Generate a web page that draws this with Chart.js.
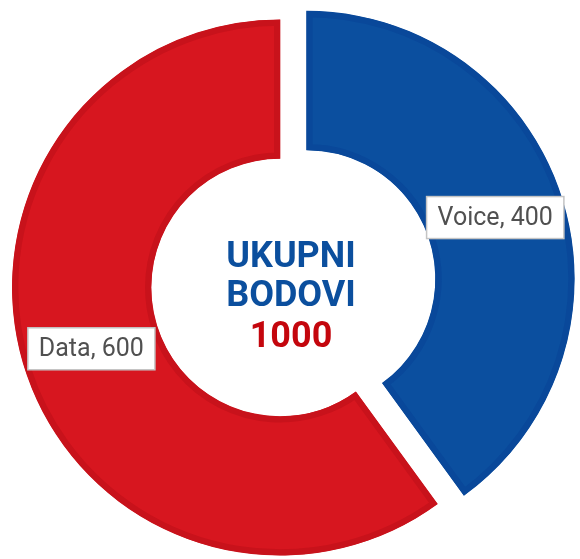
<!DOCTYPE html>
<html>
<head>
<meta charset="utf-8">
<style>
  html, body { margin: 0; padding: 0; background: #fff; }
  #wrap { width: 580px; height: 559px; position: relative; }
</style>
</head>
<body>
<div id="wrap"><canvas id="myChart"></canvas></div>
<script src="https://cdn.jsdelivr.net/npm/chart.js@4.4.0/dist/chart.umd.min.js"></script>
<script>
// podaci
const categories = ['Voice', 'Data'];
const points = [400, 600];
const centerTitle = ['UKUPNI', 'BODOVI'];

let myChart = document.getElementById('myChart').getContext('2d');

// pomak izdvojenog isjecka i natpisi na isjeccima
const explodePlugin = {
    id: 'explode',
    beforeDatasetsDraw(chart) {
        const ds = chart.data.datasets[0];
        chart.getDatasetMeta(0).data.forEach((arc, i) => {
            const d = ds.explode[i] || 0;
            const mid = (arc.startAngle + arc.endAngle) / 2;
            arc._dx = Math.cos(mid) * d;
            arc._dy = Math.sin(mid) * d;
            arc.x += arc._dx;
            arc.y += arc._dy;
        });
    },
    afterDatasetsDraw(chart) {
        const ctx = chart.ctx;
        const arcs = chart.getDatasetMeta(0).data;
        ctx.save();
        ctx.font = '25px Roboto';
        ctx.textAlign = 'center';
        ctx.textBaseline = 'middle';
        arcs.forEach((arc, i) => {
            const p = arc.getCenterPoint();
            const text = chart.data.labels[i] + ', ' + chart.data.datasets[0].data[i];
            const w = ctx.measureText(text).width + 22;
            const h = 42;
            ctx.fillStyle = '#fff';
            ctx.fillRect(p.x - w / 2, p.y - h / 2, w, h);
            ctx.strokeStyle = '#c4c4c4';
            ctx.lineWidth = 1.5;
            ctx.strokeRect(p.x - w / 2, p.y - h / 2, w, h);
            ctx.fillStyle = '#505050';
            ctx.fillText(text, p.x, p.y + 1);
        });
        ctx.restore();
        // vracam centre natrag
        arcs.forEach(arc => {
            arc.x -= arc._dx;
            arc.y -= arc._dy;
        });
    }
};

// tekst u sredini
const centerTextPlugin = {
    id: 'centerText',
    afterDraw(chart) {
        const ctx = chart.ctx;
        const area = chart.chartArea;
        const cx = (area.left + area.right) / 2 + 11;
        const cy = (area.top + area.bottom) / 2;
        const total = points.reduce((a, b) => a + b, 0);
        ctx.save();
        ctx.textAlign = 'center';
        ctx.textBaseline = 'alphabetic';
        ctx.font = 'bold 36px Roboto';
        ctx.fillStyle = '#0b4f9e';
        ctx.fillText(centerTitle[0], cx, cy - 21);
        ctx.fillText(centerTitle[1], cx, cy + 18.5);
        ctx.fillStyle = '#c4060d';
        ctx.fillText(String(total), cx, cy + 59);
        ctx.restore();
    }
};

const chart = new Chart(myChart, {
    type: 'doughnut',
    data: {
        labels: categories,
        datasets: [{
            data: points,
            backgroundColor: ['#0b4f9f', '#d7161f'],
            borderColor: ['#09489a', '#c8121b'],
            borderWidth: 6,
            borderAlign: 'inner',
            explode: [28, 0],
        }]
    },
    options: {
        responsive: true,
        maintainAspectRatio: false,
        animation: false,
        events: [],
        radius: 268,
        cutout: '48%',
        layout: {
            padding: { left: 0, right: 20, top: 16, bottom: 0 }
        },
        plugins: {
            legend: { display: false },
            tooltip: { enabled: false },
        },
    },
    plugins: [explodePlugin, centerTextPlugin],
});
</script>
</body>
</html>
